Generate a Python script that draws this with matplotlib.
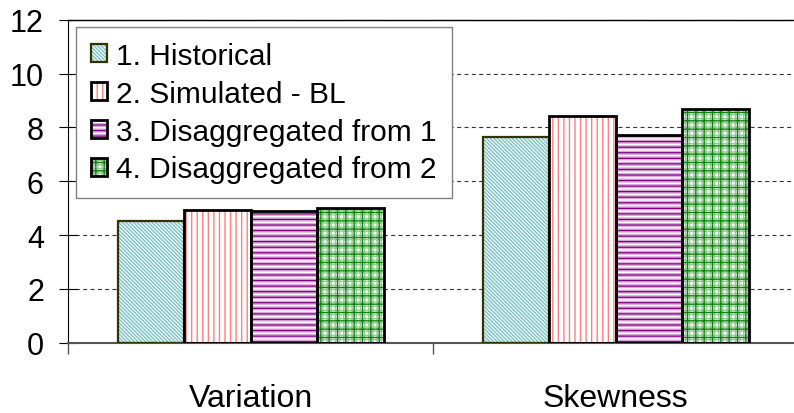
import numpy as np
import matplotlib
matplotlib.use('Agg')
import matplotlib.pyplot as plt
from matplotlib.patches import Patch
from matplotlib.legend_handler import HandlerTuple

plt.rcParams['font.family'] = ['Liberation Sans', 'DejaVu Sans']
plt.rcParams['hatch.linewidth'] = 1.0

categories = ['Variation', 'Skewness']
series = ['1. Historical', '2. Simulated - BL',
          '3. Disaggregated from 1', '4. Disaggregated from 2']
historical = [4.52, 7.63]
simulated = [4.92, 8.41]
disagg_1 = [4.90, 7.73]
disagg_2 = [5.02, 8.70]
values = [historical, simulated, disagg_1, disagg_2]

# each series: background, list of (hatch, hatch colour) layers, then the outline
styles = [
    dict(bg='#f2fafa', layers=[('\\' * 9, '#80c2c2')], edge='#333300', lw=1.6),
    dict(bg='white', layers=[('|||', '#ff8080')], edge='black', lw=2.0),
    dict(bg='white', layers=[('------', '#d8a8d8'), ('---', '#800080')], edge='black', lw=2.0),
    dict(bg='white', layers=[('++++', '#90cc90'), ('++', '#108010')], edge='black', lw=2.0),
]

fig = plt.figure(figsize=(7.94, 4.14), dpi=100)
ax = fig.add_axes([68.3 / 794, 70.3 / 414, 730 / 794, 323 / 414])

x = np.arange(len(categories))
width = 0.182
handles = []
for i, (vals, st) in enumerate(zip(values, styles)):
    pos = x + (i - 1.5) * width
    ax.bar(pos, vals, width, color=st['bg'], linewidth=0, zorder=2)
    parts = [Patch(facecolor=st['bg'], linewidth=0)]
    for hatch, hc in st['layers']:
        ax.bar(pos, vals, width, color='none', edgecolor=hc, hatch=hatch,
               linewidth=0, zorder=2)
        parts.append(Patch(facecolor='none', edgecolor=hc, hatch=hatch, linewidth=0))
    ax.bar(pos, vals, width, color='none', edgecolor=st['edge'],
           linewidth=st['lw'], zorder=3)
    parts.append(Patch(facecolor='none', edgecolor=st['edge'], linewidth=st['lw']))
    handles.append(tuple(parts))

ax.set_xlim(-0.5, 1.5)
ax.set_ylim(0, 12)
ax.set_yticks(np.arange(0, 13, 2))
ax.tick_params(axis='y', labelsize=22, direction='inout', length=13, width=0.8, pad=11)

ax.set_xticks(x)
ax.set_xticklabels(categories)
ax.tick_params(axis='x', which='major', length=0, labelsize=23, pad=29)
ax.set_xticks([-0.5, 0.5, 1.5], minor=True)
ax.tick_params(axis='x', which='minor', length=8, width=1, color='#555555',
               direction='out')

ax.yaxis.grid(True, linestyle=(0, (3.6, 3.0)), color='#333333', linewidth=0.8, zorder=0)
ax.set_axisbelow(True)
ax.spines['right'].set_visible(False)
ax.spines['bottom'].set_color('#555555')
ax.spines['bottom'].set_linewidth(1.5)
ax.spines['top'].set_linewidth(1.0)
ax.spines['left'].set_linewidth(0.8)

leg = ax.legend(handles, series, loc='upper left',
                bbox_to_anchor=((76 - 68.3) / 730, (343.7 - 28) / 323),
                borderaxespad=0, fontsize=21.5, fancybox=False, framealpha=1,
                edgecolor='#808080', handlelength=0.55, handleheight=0.55,
                handletextpad=0.3, labelspacing=0.33, borderpad=0.5,
                handler_map={tuple: HandlerTuple(ndivide=1)})
leg.get_frame().set_linewidth(1.0)
leg.set_zorder(5)

fig.savefig('out.png', dpi=100)
